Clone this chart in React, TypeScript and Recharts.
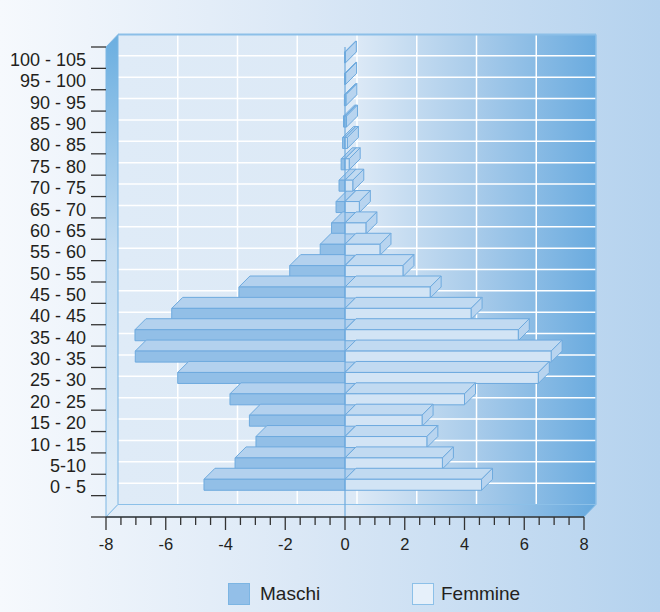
import { BarChart, Bar, XAxis, YAxis, ReferenceLine } from "recharts";

const ageGroups = [
  "100 - 105", "95 - 100", "90 - 95", "85 - 90", "80 - 85", "75 - 80", "70 - 75",
  "65 - 70", "60 - 65", "55 - 60", "50 - 55", "45 - 50", "40 - 45", "35 - 40",
  "30 - 35", "25 - 30", "20 - 25", "15 - 20", "10 - 15", "5-10", "0 - 5",
];
const maschi = [0.01, 0.01, 0.02, 0.05, 0.08, 0.13, 0.2, 0.3, 0.45, 0.83, 1.85, 3.55, 5.8, 7.03, 7.02, 5.6, 3.85, 3.2, 2.98, 3.68, 4.72];
const femmine = [0.01, 0.02, 0.03, 0.05, 0.08, 0.14, 0.26, 0.48, 0.7, 1.17, 1.94, 2.85, 4.22, 5.8, 6.9, 6.47, 4.0, 2.58, 2.74, 3.26, 4.57];
const xTicks = [
  -8, -7.5, -7, -6.5, -6, -5.5, -5, -4.5, -4, -3.5, -3, -2.5, -2, -1.5, -1, -0.5, 0,
  0.5, 1, 1.5, 2, 2.5, 3, 3.5, 4, 4.5, 5, 5.5, 6, 6.5, 7, 7.5, 8,
];
const majorTicks = [-8, -6, -4, -2, 0, 2, 4, 6, 8];

const data = ageGroups.map((age, i) => ({ age, maschi: -maschi[i], femmine: femmine[i] }));

const W = 660;
const H = 612;
const LEFT = 106;
const RIGHT = 584;
const TOP = 47;
const BOTTOM = 517;
const BAND = (BOTTOM - TOP) / 22;
const DX = 12;
const DY = 12.5;
const FONT = "'Liberation Sans', Arial, sans-serif";
const EDGE = "#6eaade";

const makeShape = (front: string, top: string, side: string) => (props: any) => {
  const { x, y, width, height } = props;
  const x0 = Math.min(x, x + width);
  const w = Math.abs(width);
  const d = 11;
  return (
    <g stroke={EDGE} strokeWidth={1} strokeLinejoin="round">
      <polygon points={`${x0},${y} ${x0 + d},${y - d} ${x0 + w + d},${y - d} ${x0 + w},${y}`} fill={top} />
      <polygon points={`${x0 + w},${y} ${x0 + w + d},${y - d} ${x0 + w + d},${y + height - d} ${x0 + w},${y + height}`} fill={side} />
      <rect x={x0} y={y} width={w} height={height} fill={front} />
    </g>
  );
};

const YTick = (props: any) => {
  const { x, y, payload, index } = props;
  const ticks = [y + BAND / 2];
  if (index === 0) ticks.push(y - BAND / 2);
  if (index === ageGroups.length - 1) ticks.push(y + BAND * 1.5);
  return (
    <g>
      <text x={x} y={y + 2} dy="0.35em" textAnchor="end" fontSize={18} fill="#231f20" fontFamily={FONT}>
        {payload.value}
      </text>
      {ticks.map((ty) => (
        <line key={ty} x1={x + 5} x2={LEFT} y1={ty} y2={ty} stroke="#333" strokeWidth={1.3} />
      ))}
    </g>
  );
};

const XTick = (props: any) => {
  const { x, y, payload } = props;
  const major = majorTicks.includes(payload.value);
  return (
    <g>
      <line x1={x} x2={x} y1={y} y2={y + (major ? 13 : 8)} stroke="#333" strokeWidth={1.3} />
      {major && (
        <text x={x} y={y + 27} dy="0.35em" textAnchor="middle" fontSize={16.5} fill="#231f20" fontFamily={FONT}>
          {payload.value}
        </text>
      )}
    </g>
  );
};

const ChartLegend = () => (
  <div style={{ position: "absolute", left: 0, top: 580, width: W, height: 30, fontFamily: FONT, fontSize: 19, color: "#231f20" }}>
    <div style={{ position: "absolute", left: 228, top: 3, width: 20, height: 20, background: "#93bfe8", border: "1px solid #7cb5e3" }} />
    <div style={{ position: "absolute", left: 260, top: 2, lineHeight: "24px" }}>Maschi</div>
    <div style={{ position: "absolute", left: 412, top: 3, width: 20, height: 20, background: "#e6f0fa", border: "1px solid #8cc0e8" }} />
    <div style={{ position: "absolute", left: 441, top: 2, lineHeight: "24px" }}>Femmine</div>
  </div>
);

function Walls() {
  const wallTop = TOP - DY;
  const wallBottom = BOTTOM - DY;
  const unit = (RIGHT - LEFT) / 16;
  return (
    <svg width={W} height={H} style={{ position: "absolute", left: 0, top: 0 }}>
      <defs>
        <linearGradient id="back" x1="0" x2="1" y1="0" y2="0">
          <stop offset="0" stopColor="#dfebf7" />
          <stop offset="0.5" stopColor="#dce9f6" />
          <stop offset="0.75" stopColor="#a8cbea" />
          <stop offset="1" stopColor="#6aabdf" />
        </linearGradient>
        <linearGradient id="side" x1="0" x2="0" y1="0" y2="1">
          <stop offset="0" stopColor="#6aaee0" />
          <stop offset="0.45" stopColor="#c4ddf2" />
          <stop offset="1" stopColor="#e2eef8" />
        </linearGradient>
        <linearGradient id="floor" x1="0" x2="1" y1="0" y2="0">
          <stop offset="0" stopColor="#e2edf8" />
          <stop offset="0.5" stopColor="#dde9f6" />
          <stop offset="0.8" stopColor="#9dc5e8" />
          <stop offset="1" stopColor="#66a9de" />
        </linearGradient>
      </defs>
      <rect x={LEFT + DX} y={wallTop} width={RIGHT - LEFT} height={BOTTOM - TOP} fill="url(#back)" />
      {majorTicks.slice(1, -1).map((v) => {
        const gx = LEFT + DX + (v + 8) * unit;
        return <line key={v} x1={gx} x2={gx} y1={wallTop} y2={wallBottom} stroke="#ffffff" strokeWidth={1.5} />;
      })}
      {ageGroups.map((a, i) => {
        const gy = wallTop + (i + 1) * BAND;
        return <line key={a} x1={LEFT + DX} x2={RIGHT + DX} y1={gy} y2={gy} stroke="#ffffff" strokeWidth={1.5} />;
      })}
      <line x1={LEFT + DX} x2={RIGHT + DX} y1={wallTop} y2={wallTop} stroke="#8cbfe8" strokeWidth={2} />
      <line x1={RIGHT + DX} x2={RIGHT + DX} y1={wallTop} y2={wallBottom} stroke="#8cbfe8" strokeWidth={1.5} />
      <polygon
        points={`${LEFT},${TOP} ${LEFT + DX},${wallTop} ${LEFT + DX},${wallBottom} ${LEFT},${BOTTOM}`}
        fill="url(#side)"
        stroke="#7db6e3"
        strokeWidth={1}
      />
      <polygon
        points={`${LEFT},${BOTTOM} ${LEFT + DX},${wallBottom} ${RIGHT + DX},${wallBottom} ${RIGHT},${BOTTOM}`}
        fill="url(#floor)"
        stroke="#8cc0e8"
        strokeWidth={1}
      />
    </svg>
  );
}

export default function App() {
  return (
    <div
      style={{
        position: "absolute",
        left: 0,
        top: 0,
        width: W,
        height: H,
        background: "linear-gradient(to right, #f6f9fd 0%, #dbe8f6 45%, #b4d2ee 100%)",
      }}
    >
      <Walls />
      <div style={{ position: "absolute", left: 0, top: 0 }}>
        <BarChart
          width={W}
          height={H}
          data={data}
          layout="vertical"
          stackOffset="sign"
          barSize={11}
          margin={{ top: TOP, right: W - RIGHT, bottom: H - BOTTOM - 30, left: 0 }}
        >
          <XAxis
            type="number"
            domain={[-8, 8]}
            ticks={xTicks}
            interval={0}
            height={30}
            tickLine={false}
            tickSize={0}
            tickMargin={0}
            axisLine={{ stroke: "#333", strokeWidth: 1.3 }}
            tick={<XTick />}
          />
          <YAxis
            type="category"
            dataKey="age"
            width={LEFT}
            interval={0}
            padding={{ top: 0, bottom: BAND }}
            tickLine={false}
            axisLine={false}
            tickSize={0}
            tickMargin={20}
            tick={<YTick />}
          />
          <ReferenceLine x={0} stroke={EDGE} strokeWidth={1.2} />
          <Bar
            dataKey="maschi"
            name="Maschi"
            stackId="a"
            isAnimationActive={false}
            shape={makeShape("#92bfe7", "#b3d1ee", "#a6c9ec")}
          />
          <Bar
            dataKey="femmine"
            name="Femmine"
            stackId="a"
            isAnimationActive={false}
            shape={makeShape("#d2e4f5", "#c1daf1", "#b8d4ef")}
          />
        </BarChart>
      </div>
      <ChartLegend />
    </div>
  );
}
